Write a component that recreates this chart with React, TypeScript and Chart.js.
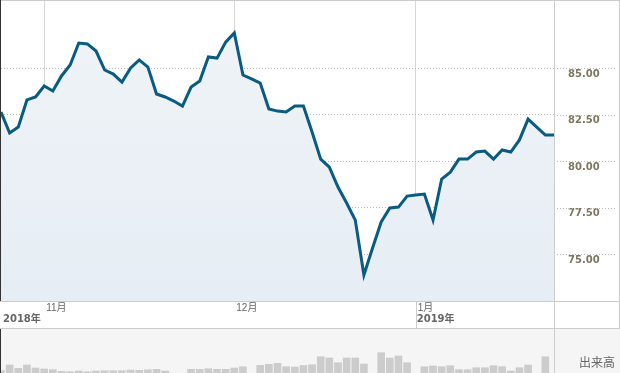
import React, { useEffect, useRef } from "react";
import { Chart, registerables } from "chart.js";
Chart.register(...registerables);

// Daily closing prices (index = trading day)
const prices: number[] = [
  82.65, 81.52, 81.84, 83.3, 83.46, 84.05, 83.78, 84.59, 85.18, 86.36,
  86.31, 85.93, 84.91, 84.69, 84.26, 85.02, 85.45, 85.07, 83.62, 83.46,
  83.24, 82.97, 83.99, 84.32, 85.61, 85.55, 86.41, 86.9, 84.64, 84.43,
  84.21, 82.81, 82.7, 82.65, 82.97, 82.97, 81.58, 80.12, 79.69, 78.62,
  77.76, 76.84, 73.89, 75.34, 76.74, 77.49, 77.54, 78.13, 78.19, 78.24,
  76.84, 79.05, 79.42, 80.12, 80.12, 80.5, 80.55, 80.12, 80.61, 80.5,
  81.15, 82.27, 81.84, 81.41, 81.41,
];

// Volume (visible part, relative units); null = no bar
const volumes: (number | null)[] = [
  2.3, 8, 4.7, 8, 5, 4, 3.3, 1.7, 1.3, 2,
  1.3, 2, 2.3, 2.3, 2.3, 3, 2.7, 3.3, 3.7, 2,
  null, null, 3.7, 3.7, 4.3, 3.7, 3.7, 5, 6.3, null,
  7.7, 8.7, 9.7, 6.3, 6, 7.5, 8.3, 16.3, 15, 10.3,
  15, 15, 9, null, 20.3, 15, 17, 10.3, null, 6.3,
  7, 6.3, 7.3, 3.3, 3.3, 5.3, 5.3, 7.3, 6.3, 2,
  5.3, 8, null, 16.3, null,
];

const monthTickIdx = [5, 27, 48];
const monthLabels = ["11月", "12月", "1月"];
const yearTickIdx = [0, 48];
const yearLabels = ["2018年", "2019年"];
const priceTicks = [75, 77.5, 80, 82.5, 85];
const priceMin = 72.49;
const priceMax = 88.62;
const volumeMax = 44;
const volumeLabel = "出来高";

const LINE = "#0a5b82";
const BORDER = "#cccccc";

export default function App() {
  const mainRef = useRef<HTMLCanvasElement>(null);
  const volRef = useRef<HTMLCanvasElement>(null);

  useEffect(() => {
    const xMax = prices.length - 1;

    const framePlugin = {
      id: "frame",
      afterDraw(chart: any) {
        const c = chart.ctx;
        const ca = chart.chartArea;
        const xs = chart.scales.x;
        const ys = chart.scales.y;
        const W = chart.width;
        const H = chart.height;
        c.save();
        // extended dotted gridlines into the label column
        c.strokeStyle = "#bbbbbb";
        c.lineWidth = 1;
        c.setLineDash([1, 2]);
        priceTicks.forEach((v) => {
          const y = Math.round(ys.getPixelForValue(v)) + 0.5;
          c.beginPath();
          c.moveTo(ca.right, y);
          c.lineTo(W - 3, y);
          c.stroke();
        });
        c.setLineDash([]);
        c.strokeStyle = BORDER;
        const hl = (y: number) => {
          c.beginPath();
          c.moveTo(0, y);
          c.lineTo(W, y);
          c.stroke();
        };
        const vl = (x: number, y0: number, y1: number) => {
          c.beginPath();
          c.moveTo(x, y0);
          c.lineTo(x, y1);
          c.stroke();
        };
        hl(0.5);
        hl(Math.round(ca.bottom) + 0.5);
        hl(H - 0.5);
        vl(Math.round(ca.right) + 0.5, 0, H);
        vl(W - 0.5, 0, H);
        // year divider through the date band
        const xj = Math.round(xs.getPixelForValue(yearTickIdx[1])) + 0.5;
        vl(xj, ca.bottom, H);
        // left dark edge
        c.strokeStyle = "#333333";
        vl(0.5, 0, ca.bottom);
        // year labels
        c.fillStyle = "#666666";
        c.font = "bold 10px 'DejaVu Sans', 'Noto Sans CJK JP'";
        c.textBaseline = "middle";
        c.textAlign = "left";
        yearTickIdx.forEach((idx, i) => {
          const x = i === 0 ? 3 : xs.getPixelForValue(idx) + 1;
          c.fillText(yearLabels[i], x, ca.bottom + 18);
        });
        c.restore();
      },
    };

    const main = new Chart(mainRef.current!, {
      type: "line",
      data: {
        datasets: [
          {
            data: prices.map((p, i) => ({ x: i, y: p })),
            borderColor: LINE,
            borderWidth: 3,
            pointRadius: 0,
            tension: 0,
            fill: "start",
            backgroundColor: (ctx: any) => {
              const ch = ctx.chart;
              const ca = ch.chartArea;
              if (!ca) return "#e9eff5";
              const g = ch.ctx.createLinearGradient(0, ca.top, 0, ca.bottom);
              g.addColorStop(0, "#f0f4f8");
              g.addColorStop(1, "#e6edf4");
              return g;
            },
          },
        ],
      },
      options: {
        animation: false,
        responsive: false,
        events: [],
        layout: { padding: { left: 1, top: 1, right: 0, bottom: 0 } },
        plugins: { legend: { display: false }, tooltip: { enabled: false } },
        scales: {
          x: {
            type: "linear",
            min: 0,
            max: xMax,
            afterFit: (a: any) => {
              a.height = 28;
              a.paddingLeft = 0;
              a.paddingRight = 0;
              a.paddingTop = 0;
              a.paddingBottom = 0;
            },
            afterBuildTicks: (a: any) => {
              a.ticks = monthTickIdx.map((v) => ({ value: v }));
            },
            grid: { color: "#d6d6d6", drawTicks: false },
            border: { display: false },
            ticks: {
              autoSkip: false,
              maxRotation: 0,
              align: "start",
              labelOffset: 2,
              padding: 1,
              color: "#666666",
              font: { family: "'Liberation Sans', 'Noto Sans CJK JP'", size: 10 },
              callback: (_v: any, i: number) => monthLabels[i],
            },
          },
          y: {
            position: "right",
            min: priceMin,
            max: priceMax,
            afterFit: (a: any) => {
              a.width = 66;
              a.paddingTop = 0;
              a.paddingBottom = 0;
              a.paddingLeft = 0;
              a.paddingRight = 0;
            },
            afterBuildTicks: (a: any) => {
              a.ticks = priceTicks.map((v) => ({ value: v }));
            },
            grid: { color: "#bbbbbb", drawTicks: false },
            border: { display: false, dash: [1, 2] },
            ticks: {
              padding: 14,
              labelOffset: 6,
              color: "#7d7761",
              font: { family: "'DejaVu Sans'", size: 10, weight: "bold" },
              callback: (v: any) => Number(v).toFixed(2),
            },
          },
        },
      },
      plugins: [framePlugin],
    } as any);

    const volPlugin = {
      id: "volframe",
      beforeDraw(chart: any) {
        const c = chart.ctx;
        c.save();
        c.fillStyle = "#f5f5f5";
        c.fillRect(0, 0, chart.width, chart.height);
        c.restore();
      },
      afterDraw(chart: any) {
        const c = chart.ctx;
        const ca = chart.chartArea;
        c.save();
        c.strokeStyle = BORDER;
        c.lineWidth = 1;
        c.beginPath();
        c.moveTo(Math.round(ca.right) + 0.5, 0);
        c.lineTo(Math.round(ca.right) + 0.5, chart.height);
        c.stroke();
        c.strokeStyle = "#333333";
        c.beginPath();
        c.moveTo(0.5, 0);
        c.lineTo(0.5, chart.height);
        c.stroke();
        c.fillStyle = "#666666";
        c.font = "12px 'Noto Sans CJK JP'";
        c.textAlign = "center";
        c.textBaseline = "middle";
        c.fillText(volumeLabel, (ca.right + chart.width) / 2 + 10, 33);
        c.restore();
      },
    };

    const vol = new Chart(volRef.current!, {
      type: "bar",
      data: {
        datasets: [
          {
            data: volumes.map((v, i) => ({ x: i, y: v })),
            backgroundColor: "#cccccc",
            barThickness: 7,
            borderWidth: 0,
          },
        ],
      },
      options: {
        animation: false,
        responsive: false,
        events: [],
        layout: { padding: { left: 1, top: 0, right: 66, bottom: 0 } },
        plugins: { legend: { display: false }, tooltip: { enabled: false } },
        scales: {
          x: { type: "linear", min: 0, max: xMax, offset: false, display: false },
          y: { min: 0, max: volumeMax, display: false },
        },
      },
      plugins: [volPlugin],
    } as any);

    return () => {
      main.destroy();
      vol.destroy();
    };
  }, []);

  return (
    <div
      style={{
        position: "fixed",
        left: 0,
        top: 0,
        width: 620,
        height: 373,
        overflow: "hidden",
        background: "#ffffff",
      }}
    >
      <canvas ref={mainRef} width={620} height={329} style={{ display: "block" }} />
      <canvas ref={volRef} width={620} height={44} style={{ display: "block" }} />
    </div>
  );
}
